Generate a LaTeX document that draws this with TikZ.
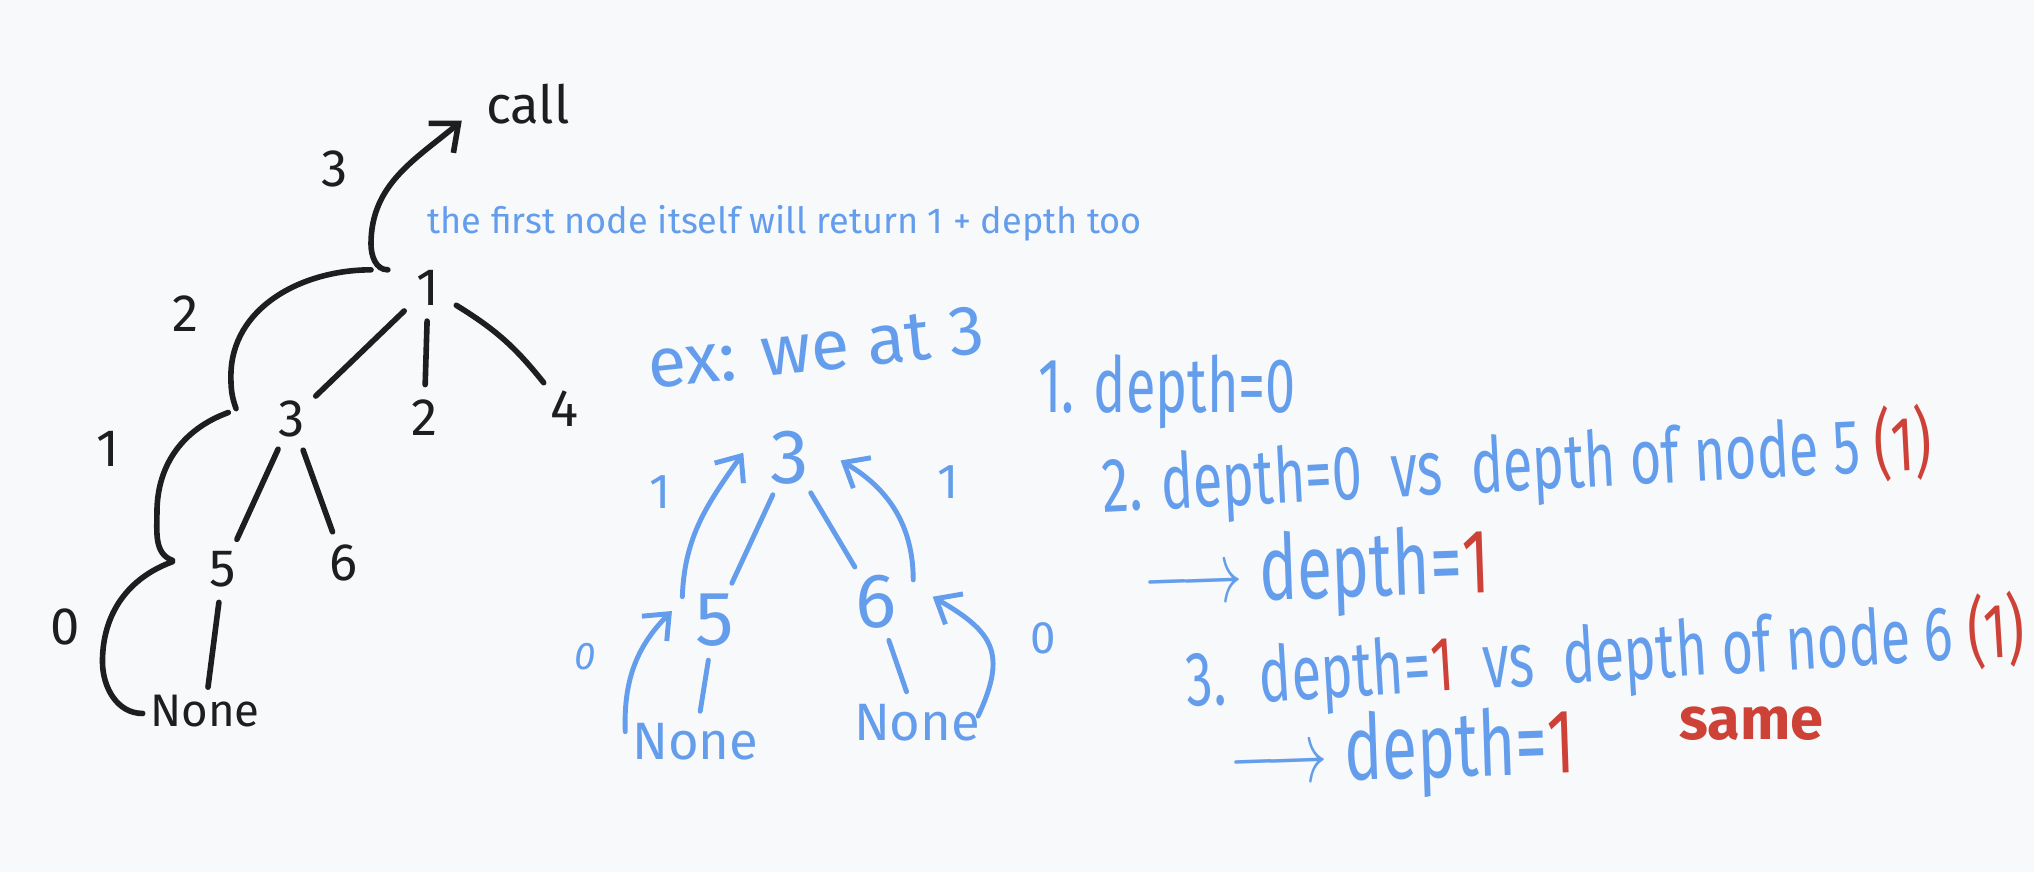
\documentclass[tikz,border=0pt]{standalone}
\usepackage{fontspec}
\setmainfont{Fira Sans}
\usepackage{graphicx}
\usetikzlibrary{arrows.meta, positioning, calc}
\definecolor{inkblack}{RGB}{30,30,30}
\definecolor{inkblue}{RGB}{99,157,235}
\definecolor{inkred}{RGB}{205,65,55}
\definecolor{paper}{RGB}{248,249,251}
\newcommand{\narrowtext}[1]{\scalebox{0.7}[1]{#1}}

\begin{document}
\begin{tikzpicture}[x=0.013cm, y=0.013cm,
    tnode/.style={circle, minimum size=0.65cm, inner sep=0, text=inkblack, font=\fontsize{15}{18}\selectfont},
    tlabel/.style={text=inkblack, font=\fontsize{15}{18}\selectfont},
    tbranch/.style={draw=inkblack, line width=1.6pt, line cap=round},
    tret/.style={tbranch, -{Straight Barb[length=6.5pt, width=11pt]}},
    enode/.style={circle, minimum size=0.8cm, inner sep=0, text=inkblue, font=\fontsize{22}{26}\selectfont},
    elabel/.style={text=inkblue, font=\fontsize{14}{17}\selectfont},
    ebranch/.style={draw=inkblue, line width=1.4pt, line cap=round},
    eret/.style={ebranch, -{Straight Barb[length=6pt, width=10pt]}},
    stepline/.style={anchor=base west, inner sep=0, text=inkblue, font=\fontsize{22}{26}\selectfont},
    result/.style={stepline, font=\fontsize{26}{30}\selectfont}
]
\path[use as bounding box, fill=paper] (0,0) rectangle (1568,-672);

% 黑色的树
\node[tlabel] (call) at (407,-80) {call};
\node[tnode] (n1) at (330,-222) {1};
\node[tnode] (n3) at (225,-323) {3};
\node[tnode] (n2) at (327,-322) {2};
\node[tnode] (n4) at (435,-315) {4};
\node[tnode] (n5) at (172,-439) {5};
\node[tnode] (n6) at (265,-434) {6};
\node[tlabel, font=\fontsize{13}{16}\selectfont, inner sep=2pt] (none1) at (158,-548) {None};

\node[tlabel] (lab3) at (258,-130) {3};
\node[tlabel] (lab2) at (143,-242) {2};
\node[tlabel] (lab1) at (83,-346) {1};
\node[tlabel] (lab0) at (50,-483) {0};

\draw[tbranch] (n1) -- (n3);
\draw[tbranch] (n1) -- (n2);
\draw[tbranch] (n1) to[bend left=10] (n4);
\draw[tbranch] (n3) -- (n5);
\draw[tbranch] (n3) -- (n6);
\draw[tbranch] (n5) -- (none1);

% 返回的路径
\draw[tbranch] ([shift={(-48,-2)}]none1.center) to[out=180,in=-90] ++(-31,40)
    to[out=90,in=200] ([shift={(-39,6)}]n5.center);
\draw[tbranch] ([shift={(-39,7)}]n5.center) to[out=160,in=-90] ++(-12,37)
    to[out=90,in=200] ([shift={(-49,5)}]n3.center);
\draw[tbranch] ([shift={(-43,8)}]n3.center) to[out=110,in=-90] ++(-4,25)
    to[out=90,in=180] ([shift={(-44,14)}]n1.center);
\draw[tret] ([shift={(-31,14)}]n1.center) to[out=180,in=-90] ++(-13,20)
    to[out=90,in=-140] ([shift={(-51,-13)}]call.center);

\node[text=inkblue, font=\fontsize{10.3}{12}\selectfont] (note) at (605,-172)
    {the first node itself will return 1 + depth too};

% 蓝色的例子
\node[text=inkblue, font=\fontsize{20}{24}\selectfont, rotate=6] (ex) at (629,-268) {ex: we at 3};
\node[enode] (b3) at (609,-353) {3};
\node[enode] (b5) at (551,-478) {5};
\node[enode] (b6) at (675,-464) {6};
\node[elabel, font=\fontsize{15}{18}\selectfont] (bnone1) at (536,-572) {None};
\node[elabel, font=\fontsize{15}{18}\selectfont] (bnone2) at (707,-557) {None};

\node[elabel] (bl1) at (509,-379) {1};
\node[elabel, font=\fontsize{11}{13}\selectfont\itshape] (bl0) at (451,-506) {0};
\node[elabel] (br1) at (731,-372) {1};
\node[elabel, font=\fontsize{13}{16}\selectfont] (br0) at (804,-492) {0};

\draw[ebranch] (b3) -- (b5);
\draw[ebranch] (b3) -- (b6);
\draw[ebranch] (b5) -- (bnone1);
\draw[ebranch] (b6) -- (bnone2);

\draw[eret] ([shift={(-54,8)}]bnone1.center) to[out=92,in=-135] ([shift={(-33,7)}]b5.center);
\draw[eret] ([shift={(-25,18)}]b5.center) to[out=88,in=-125] ([shift={(-36,4)}]b3.center);
\draw[eret] ([shift={(29,17)}]b6.center) to[out=90,in=-30] ([shift={(39,-2)}]b3.center);
\draw[eret] ([shift={(47,5)}]bnone2.center) to[out=65,in=-30, looseness=1.4] ([shift={(44,4)}]b6.center);

% 右边的步骤
\node[stepline] (step1) at (800,-318) {\narrowtext{1. depth=0}};
\node[stepline, rotate=3] (step2) at (850,-395)
    {\narrowtext{2. depth=0 \ vs \ depth of node 5 \textcolor{inkred}{(1)}}};
\node[result, rotate=2] (step2b) at (882,-466)
    {\narrowtext{$\longrightarrow$ depth=\textcolor{inkred}{1}}};
\node[stepline, rotate=3.5] (step3) at (915,-545)
    {\narrowtext{3. \ depth=\textcolor{inkred}{1} \ vs \ depth of node 6 \textcolor{inkred}{(1)}}};
\node[result, rotate=2] (step3b) at (948,-605)
    {\narrowtext{$\longrightarrow$ depth=\textcolor{inkred}{1}}};
\node[text=inkred, font=\fontsize{17}{20}\selectfont\bfseries] (same) at (1350,-558) {same};
\end{tikzpicture}
\end{document}
